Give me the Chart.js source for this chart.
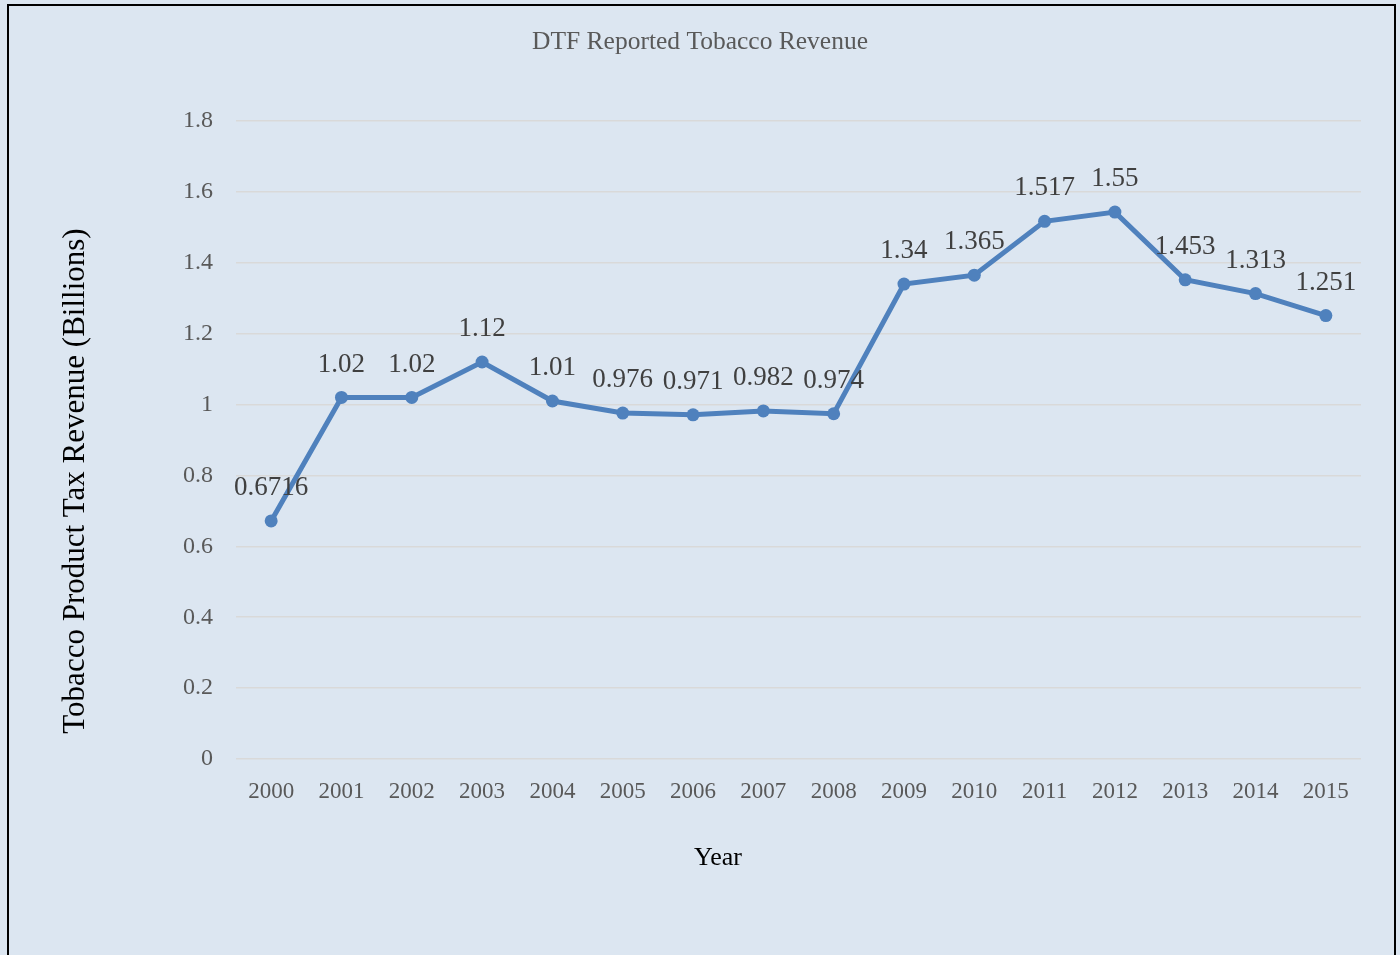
<!DOCTYPE html>
<html>
<head>
<meta charset="utf-8">
<script src="https://cdn.jsdelivr.net/npm/chart.js@4/dist/chart.umd.min.js"></script>
<style>
    html, body {
        margin: 0;
        padding: 0;
        background: #dce6f1;
    }
    #wrap {
        position: relative;
        width: 1400px;
        height: 955px;
        overflow: hidden;
    }
    #frame {
        position: absolute;
        left: 7px;
        top: 4px;
        width: 1385px;
        height: 980px;
        border: 2px solid #000;
        pointer-events: none;
    }
    canvas {
        position: absolute;
        left: 0;
        top: 0;
    }
</style>
</head>
<body>
<div id="wrap">
    <canvas id="chart" width="1400" height="955"></canvas>
    <div id="frame"></div>
</div>
<script>
const years = ['2000', '2001', '2002', '2003', '2004', '2005', '2006', '2007',
    '2008', '2009', '2010', '2011', '2012', '2013', '2014', '2015'];
// where the markers sit on the value axis
const revenue = [0.6716, 1.02, 1.02, 1.12, 1.01, 0.976, 0.971, 0.982,
    0.974, 1.34, 1.365, 1.517, 1.543, 1.352, 1.313, 1.251];
// text printed above each marker
const revenueLabels = ['0.6716', '1.02', '1.02', '1.12', '1.01', '0.976', '0.971', '0.982',
    '0.974', '1.34', '1.365', '1.517', '1.55', '1.453', '1.313', '1.251'];

const xTitle = 'Year';
const yTitle = 'Tobacco Product Tax Revenue (Billions)';

const serif = '"Liberation Serif", "Times New Roman", serif';

const pointLabels = {
    id: 'pointLabels',
    afterDatasetsDraw(chart) {
        const ctx = chart.ctx;
        const meta = chart.getDatasetMeta(0);
        ctx.save();
        ctx.font = '27px ' + serif;
        ctx.fillStyle = '#404040';
        ctx.textAlign = 'center';
        ctx.textBaseline = 'middle';
        meta.data.forEach((pt, i) => {
            ctx.fillText(revenueLabels[i], pt.x, pt.y - 33);
        });
        ctx.restore();
    }
};

// axis titles sit off-centre in the original, so they are drawn here
const axisTitles = {
    id: 'axisTitles',
    afterDraw(chart) {
        const ctx = chart.ctx;
        ctx.save();
        ctx.fillStyle = '#000';
        ctx.textAlign = 'center';
        ctx.textBaseline = 'middle';
        ctx.font = '26px ' + serif;
        ctx.fillText(xTitle, 718, 858);
        ctx.translate(76, 481);
        ctx.rotate(-Math.PI / 2);
        ctx.font = '31px ' + serif;
        ctx.fillText(yTitle, 0, 0);
        ctx.restore();
    }
};

new Chart(document.getElementById('chart'), {
    type: 'line',
    data: {
        labels: years,
        datasets: [{
            data: revenue,
            borderColor: '#4f81bd',
            backgroundColor: '#4f81bd',
            borderWidth: 5,
            pointRadius: 6.5,
            pointBorderWidth: 0,
            pointHoverRadius: 6.5,
            tension: 0,
        }]
    },
    options: {
        responsive: false,
        animation: false,
        events: [],
        layout: {
            padding: { left: 39, right: 39, top: 0, bottom: 81.4 }
        },
        plugins: {
            legend: { display: false },
            tooltip: { enabled: false },
            title: {
                display: true,
                text: 'DTF Reported Tobacco Revenue',
                color: '#595959',
                font: { family: serif, size: 25.5, weight: 'normal' },
                padding: { top: 26.7, bottom: 63.7 }
            }
        },
        scales: {
            x: {
                offset: true,
                afterFit(scale) {
                    scale.height = 114.6;
                },
                grid: { display: false, drawTicks: false },
                border: { display: false },
                ticks: {
                    color: '#595959',
                    font: { family: serif, size: 23 },
                    padding: 19,
                    maxRotation: 0,
                    autoSkip: false
                }
            },
            y: {
                min: 0,
                max: 1.8,
                afterFit(scale) {
                    scale.width = 197;
                },
                grid: { color: '#d9d9d9', lineWidth: 1.5, drawTicks: false },
                border: { display: false },
                ticks: {
                    stepSize: 0.2,
                    color: '#595959',
                    font: { family: serif, size: 24 },
                    padding: 23,
                    callback: v => String(Math.round(v * 10) / 10)
                }
            }
        }
    },
    plugins: [pointLabels, axisTitles]
});
</script>
</body>
</html>
